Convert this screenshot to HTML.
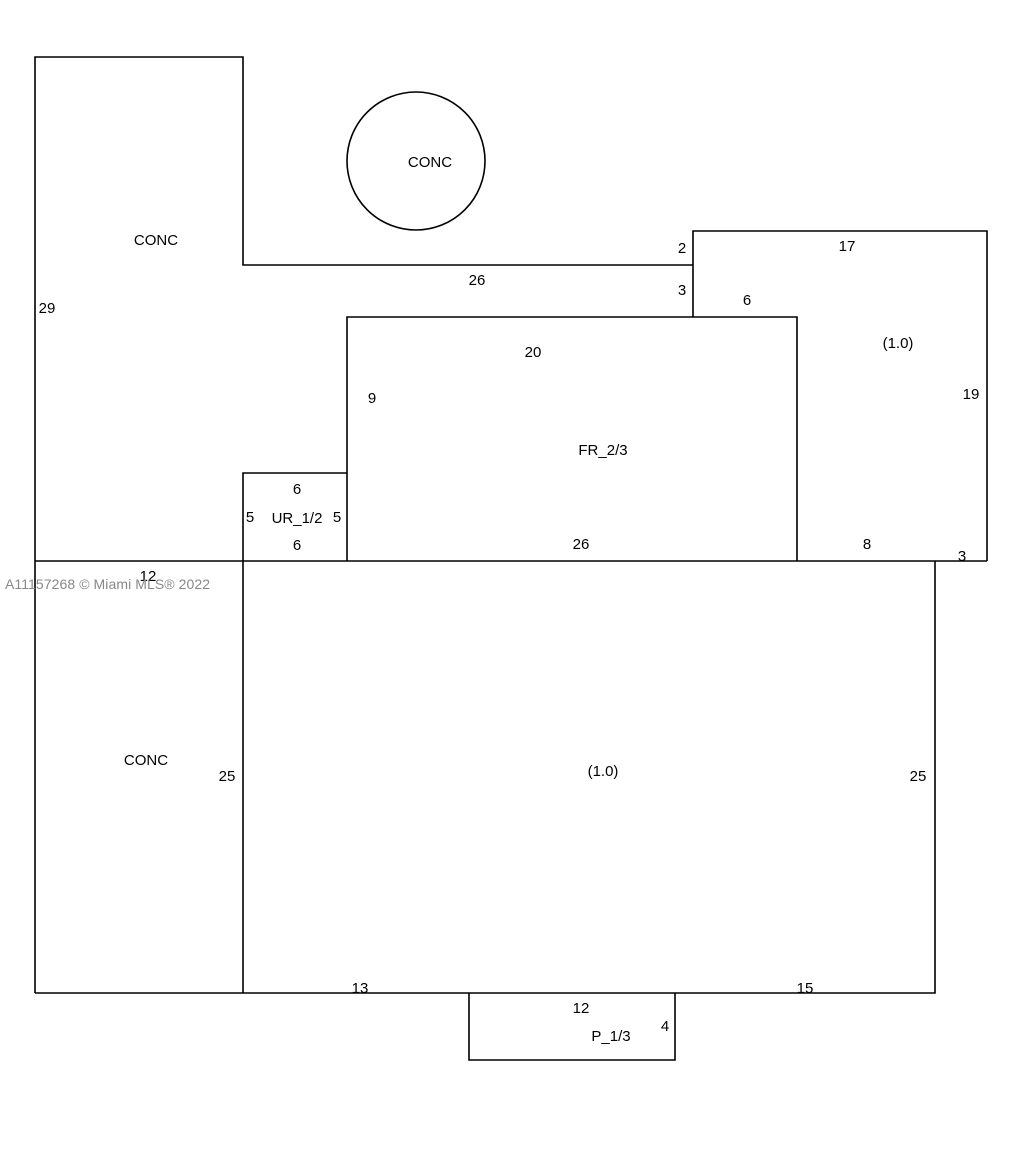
<!DOCTYPE html>
<html><head><meta charset="utf-8"><style>
html,body{margin:0;padding:0;background:#fff;}
svg{display:block;}
text{font-family:"Liberation Sans",sans-serif;font-size:15px;fill:#000;}
</style></head><body>
<svg width="1016" height="1168" viewBox="0 0 1016 1168" xmlns="http://www.w3.org/2000/svg">
<g stroke="#000" stroke-width="1.6" fill="none">
<polyline points="35,993 35,57 243,57 243,265 693,265"/>
<line x1="35" y1="561" x2="987" y2="561"/>
<polyline points="693,317 693,231 987,231 987,561"/>
<polyline points="347,561 347,317 797,317 797,561"/>
<polyline points="243,993 243,473 347,473"/>
<polyline points="35,993 935,993 935,561"/>
<polyline points="469,993 469,1060 675,1060 675,993"/>
<circle cx="416" cy="161" r="69"/>
</g>
<g text-anchor="middle">
<text x="430" y="167">CONC</text>
<text x="156" y="245">CONC</text>
<text x="146" y="765">CONC</text>
<text x="47" y="313">29</text>
<text x="682" y="253">2</text>
<text x="682" y="295">3</text>
<text x="477" y="285">26</text>
<text x="847" y="251">17</text>
<text x="747" y="305">6</text>
<text x="898" y="348">(1.0)</text>
<text x="971" y="399">19</text>
<text x="533" y="357">20</text>
<text x="372" y="403">9</text>
<text x="603" y="455">FR_2/3</text>
<text x="297" y="494">6</text>
<text x="250" y="522">5</text>
<text x="297" y="523">UR_1/2</text>
<text x="337" y="522">5</text>
<text x="297" y="550">6</text>
<text x="581" y="549">26</text>
<text x="867" y="549">8</text>
<text x="962" y="561">3</text>
<text x="148" y="581">12</text>
<text x="227" y="781">25</text>
<text x="603" y="776">(1.0)</text>
<text x="918" y="781">25</text>
<text x="360" y="993">13</text>
<text x="805" y="993">15</text>
<text x="581" y="1013">12</text>
<text x="611" y="1041">P_1/3</text>
<text x="665" y="1031">4</text>
</g>
<text x="5" y="589" textLength="205" style="font-size:14px;fill:#888;">A11157268 © Miami MLS® 2022</text>
</svg>
</body></html>
